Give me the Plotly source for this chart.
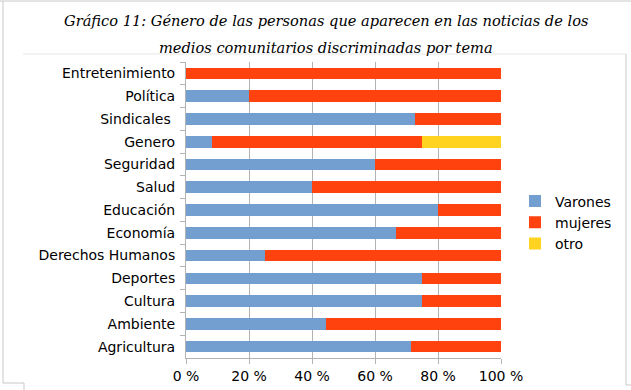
import plotly.graph_objects as go

categories = ["Entretenimiento", "Política", "Sindicales\u00a0", "Genero", "Seguridad", "Salud",
              "Educación", "Economía", "Derechos Humanos", "Deportes", "Cultura", "Ambiente", "Agricultura"]
varones = [0, 20, 72.7, 8.3, 60, 40, 80, 66.7, 25, 75, 75, 44.4, 71.4]
mujeres = [100, 80, 27.3, 66.7, 40, 60, 20, 33.3, 75, 25, 25, 55.6, 28.6]
otro = [0, 0, 0, 25, 0, 0, 0, 0, 0, 0, 0, 0, 0]
tick_vals = [0, 20, 40, 60, 80, 100]
tick_text = ["0 %", "20 %", "40 %", "60 %", "80 %", "100 %"]
title_lines = ["Gráfico 11: Género de las personas que aparecen en las noticias de los",
               "medios comunitarios discriminadas por tema"]

series = [("Varones", varones, "#729fcf"), ("mujeres", mujeres, "#ff420e"), ("otro", otro, "#ffd320")]

L, R, T, B = 186, 130, 62, 32
PW, PH = 631 - L - R, 390 - T - B

def px(x):
    return (x - L) / PW

def py(y):
    return (390 - B - y) / PH

fig = go.Figure()
for name, vals, col in series:
    fig.add_trace(go.Bar(y=categories, x=vals, name=name, orientation="h",
                         marker=dict(color=col, line=dict(width=0))))

grid = "#b3b3b3"
fig.update_layout(
    width=631, height=390, barmode="stack", bargap=0.49,
    paper_bgcolor="white", plot_bgcolor="white",
    margin=dict(l=L, r=R, t=T, b=B, autoexpand=False),
    font=dict(family="DejaVu Sans", size=14, color="black"),
    showlegend=True,
    legend=dict(x=px(515), xanchor="left", y=py(222.5), yanchor="middle",
                font=dict(size=14), itemwidth=30, tracegroupgap=0,
                bgcolor="rgba(0,0,0,0)", traceorder="normal"),
    xaxis=dict(range=[0, 100], tickvals=tick_vals, ticktext=tick_text, showgrid=True,
               gridcolor=grid, gridwidth=1, showline=True, linecolor=grid, linewidth=1,
               ticks="outside", ticklen=5, tickcolor=grid, zeroline=False),
    yaxis=dict(categoryorder="array", categoryarray=categories, autorange="reversed",
               showline=True, linecolor=grid, ticks="outside", ticklen=5, tickcolor=grid,
               tickson="boundaries", showgrid=False, ticklabelstandoff=7),
)

for txt, yy in zip(title_lines, [21, 48]):
    fig.add_annotation(text=txt, xref="paper", yref="paper", x=px(326), y=py(yy),
                       xanchor="center", yanchor="middle", showarrow=False,
                       font=dict(family="DejaVu Serif", size=14.6, style="italic", color="black"))

# page-frame decorations (light grey border lines)
border = "#c8c8c8"
def frame_line(x0, y0, x1, y1, color=border):
    fig.add_shape(type="line", xref="paper", yref="paper", line=dict(color=color, width=1),
                  x0=px(x0), x1=px(x1), y0=py(y0), y1=py(y1))
frame_line(0, 1, 631, 1)
frame_line(3, 1, 3, 383)
frame_line(3, 383, 24, 383)
frame_line(24, 383, 24, 390)
frame_line(626, 54, 626, 385)
frame_line(23, 54, 626, 54, "#e6e6e6")
frame_line(626, 385, 631, 385)

fig.write_html("out.html", config={"displayModeBar": False},
               post_script="document.body.style.margin='0';")
